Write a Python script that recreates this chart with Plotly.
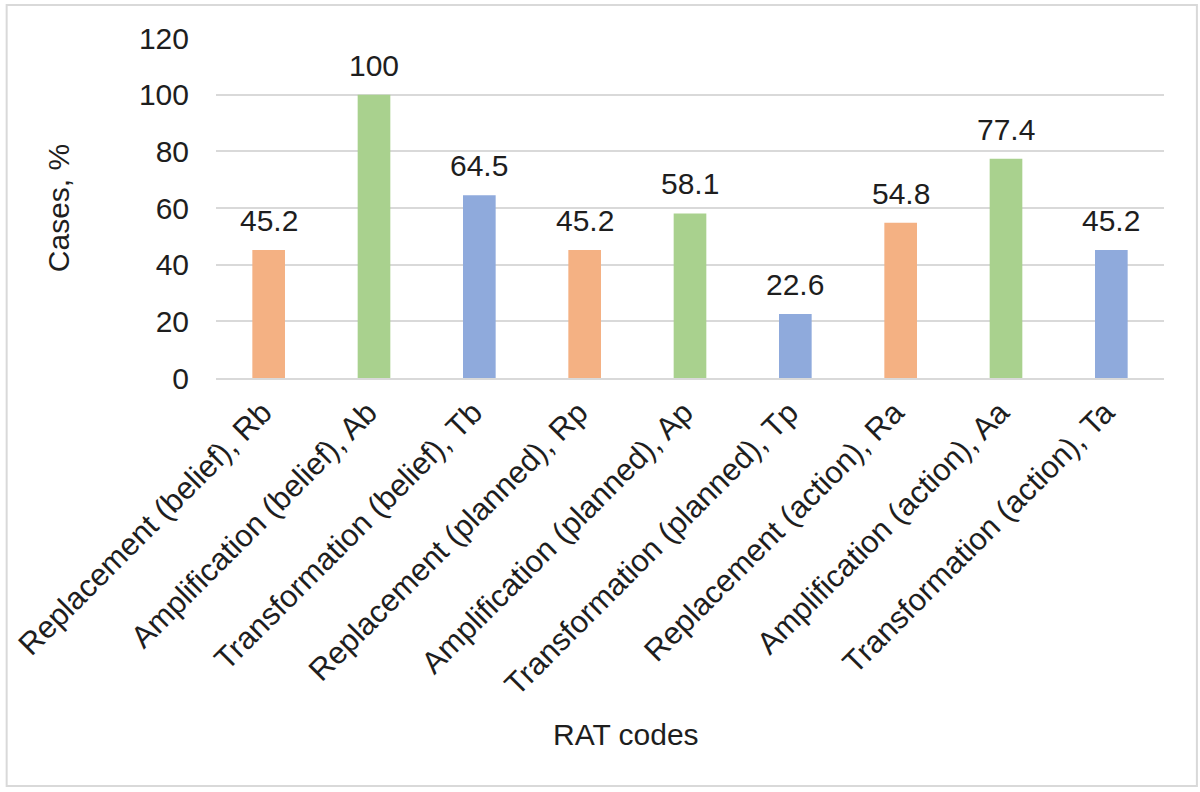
import plotly.graph_objects as go

# chart data
categories = [
    "Replacement (belief), Rb",
    "Amplification (belief), Ab",
    "Transformation (belief), Tb",
    "Replacement (planned), Rp",
    "Amplification (planned), Ap",
    "Transformation (planned), Tp",
    "Replacement (action), Ra",
    "Amplification (action), Aa",
    "Transformation (action), Ta",
]
cases_pct = [45.2, 100, 64.5, 45.2, 58.1, 22.6, 54.8, 77.4, 45.2]
value_labels = ["45.2", "100", "64.5", "45.2", "58.1", "22.6", "54.8", "77.4", "45.2"]
bar_colors = ["#F4B183", "#A9D18E", "#8FAADC"] * 3
y_ticks = [0, 20, 40, 60, 80, 100, 120]

FONT = "Liberation Sans, Arial, sans-serif"
TXT = "#1E1E1E"
FS = 30

fig = go.Figure()

fig.add_trace(
    go.Bar(x=categories, y=cases_pct, marker=dict(color=bar_colors, line=dict(width=0)),
           width=0.31, hoverinfo="x+y"))

# value labels above the bars
for c, v, lab in zip(categories, cases_pct, value_labels):
    fig.add_annotation(x=c, y=v, text=lab, showarrow=False, yanchor="bottom", yshift=11,
                       font=dict(size=FS, color=TXT, family=FONT))

# axis title "RAT codes"
fig.add_annotation(x=(624 - 213) / 951, y=(378 - 735) / 340, xref="paper", yref="paper",
                   text="RAT codes", showarrow=False, xanchor="center", yanchor="middle",
                   font=dict(size=FS, color=TXT, family=FONT))

# outer chart border
fig.add_shape(type="rect", xref="paper", yref="paper",
              x0=(3 - 213) / 951, x1=(1197 - 213) / 951,
              y0=(378 - 786) / 340, y1=(378 - 5) / 340,
              line=dict(color="#D9D9D9", width=2), fillcolor="rgba(0,0,0,0)", layer="below")

fig.update_layout(
    width=1200, height=792,
    margin=dict(l=213, r=36, t=38, b=414),
    plot_bgcolor="white", paper_bgcolor="white",
    showlegend=False,
    font=dict(family=FONT, size=FS, color=TXT),
    xaxis=dict(tickangle=-45, showgrid=False, showline=True, linecolor="#D9D9D9",
               linewidth=2, ticks="", ticklabelstandoff=2, ticklabelshift=-6,
               tickfont=dict(size=31, color=TXT, family=FONT)),
    yaxis=dict(range=[0, 120], tickvals=y_ticks, showgrid=True, gridcolor="#D9D9D9",
               gridwidth=2, zeroline=False, showline=False, ticklabelstandoff=26,
               tickfont=dict(size=FS, color=TXT, family=FONT),
               title=dict(text="Cases, %", standoff=60,
                          font=dict(size=FS, color=TXT, family=FONT))),
)

# page body has a default margin; remove it so the chart sits at the window corner
fig.write_html("out.html", config={"displayModeBar": False},
               post_script="document.body.style.margin='0';")
